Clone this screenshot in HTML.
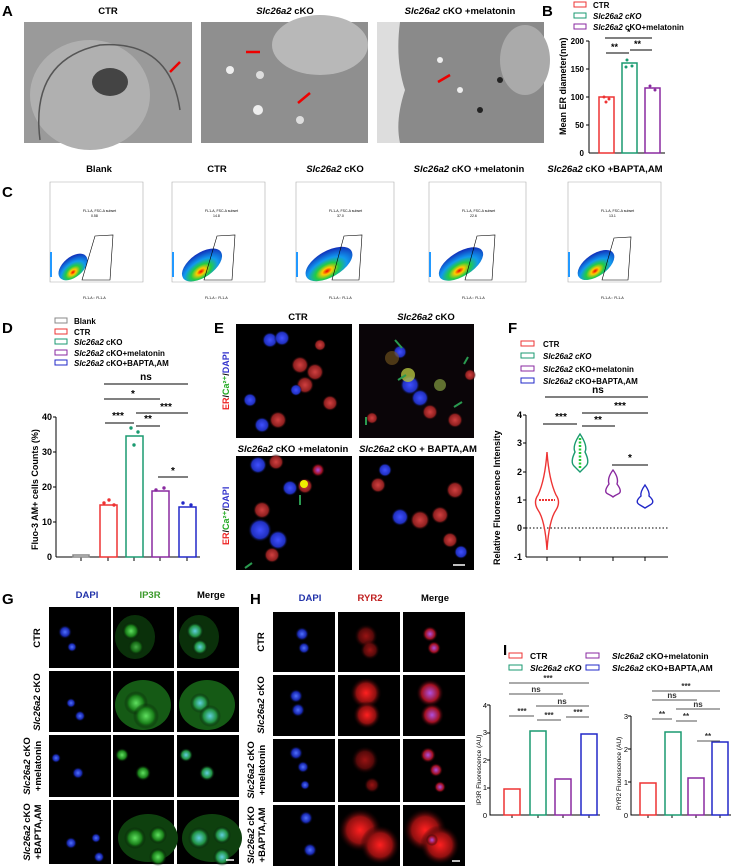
<!DOCTYPE html>
<html><head><meta charset="utf-8"><style>
body{margin:0;background:#fff}
svg{display:block;font-family:"Liberation Sans",Arial,sans-serif}
</style></head><body>
<svg width="735" height="868" viewBox="0 0 735 868" xmlns="http://www.w3.org/2000/svg">
<defs>
<radialGradient id="fl" cx="40%" cy="70%" r="70%"><stop offset="0" stop-color="#e00"/><stop offset=".15" stop-color="#fc0"/><stop offset=".35" stop-color="#2c4"/><stop offset=".6" stop-color="#19e"/><stop offset="1" stop-color="#13b"/></radialGradient>
<radialGradient id="b"><stop offset="0" stop-color="#5070ff"/><stop offset=".6" stop-color="#1828b0"/><stop offset="1" stop-color="#000" stop-opacity="0"/></radialGradient>
<radialGradient id="g"><stop offset="0" stop-color="#60e060"/><stop offset=".6" stop-color="#1a801a"/><stop offset="1" stop-color="#000" stop-opacity="0"/></radialGradient>
<radialGradient id="r"><stop offset="0" stop-color="#ff2020"/><stop offset=".6" stop-color="#901010"/><stop offset="1" stop-color="#000" stop-opacity="0"/></radialGradient>
<radialGradient id="c"><stop offset="0" stop-color="#60d0e0"/><stop offset=".6" stop-color="#209040"/><stop offset="1" stop-color="#000" stop-opacity="0"/></radialGradient>
<radialGradient id="pu"><stop offset="0" stop-color="#b050e0"/><stop offset=".6" stop-color="#a01020"/><stop offset="1" stop-color="#000" stop-opacity="0"/></radialGradient>
<radialGradient id="er"><stop offset="0" stop-color="#d04040"/><stop offset=".7" stop-color="#902020"/><stop offset="1" stop-color="#000" stop-opacity="0"/></radialGradient>
<radialGradient id="eb"><stop offset="0" stop-color="#4050ff"/><stop offset=".7" stop-color="#2030c0"/><stop offset="1" stop-color="#000" stop-opacity="0"/></radialGradient>
</defs>
<style>
.L{font-size:15px;font-weight:bold}
.T{font-size:9.5px;font-weight:bold}
.lg{font-size:8px;font-weight:bold}
</style>

<!-- A -->
<text class="L" x="2" y="16">A</text>
<text class="T" x="108" y="14" text-anchor="middle">CTR</text>
<text class="T" x="285" y="14" text-anchor="middle"><tspan font-style="italic">Slc26a2</tspan> cKO</text>
<text class="T" x="460" y="14" text-anchor="middle"><tspan font-style="italic">Slc26a2</tspan> cKO +melatonin</text>
<rect x="24" y="22" width="168" height="121" fill="#9a9a9a"/>
<ellipse cx="90" cy="95" rx="60" ry="55" fill="#b0b0b0"/>
<path d="M40 140 Q30 60 100 45 Q170 40 180 110" fill="none" stroke="#555" stroke-width="1.5"/>
<ellipse cx="110" cy="82" rx="18" ry="14" fill="#444"/>
<rect x="201" y="22" width="167" height="121" fill="#8f8f8f"/>
<ellipse cx="320" cy="45" rx="48" ry="30" fill="#b8b8b8"/>
<circle cx="230" cy="70" r="4" fill="#eee"/><circle cx="258" cy="110" r="5" fill="#eee"/><circle cx="300" cy="120" r="4" fill="#ddd"/><circle cx="260" cy="75" r="4" fill="#ddd"/>
<rect x="377" y="22" width="167" height="121" fill="#8a8a8a"/>
<path d="M377 22 L400 22 Q395 60 405 90 Q395 120 400 143 L377 143Z" fill="#ddd"/>
<ellipse cx="525" cy="60" rx="25" ry="35" fill="#aaa"/>
<circle cx="440" cy="60" r="3" fill="#eee"/><circle cx="460" cy="90" r="3" fill="#eee"/><circle cx="480" cy="110" r="3" fill="#222"/><circle cx="500" cy="80" r="3" fill="#222"/>
<g stroke="#e00" stroke-width="2.5">
<line x1="180" y1="62" x2="170" y2="72"/><line x1="260" y1="52" x2="246" y2="52"/><line x1="310" y1="93" x2="298" y2="103"/><line x1="450" y1="75" x2="438" y2="82"/></g>

<!-- B -->
<text class="L" x="542" y="16">B</text>
<g class="lg">
<rect x="574" y="2" width="12" height="5" fill="none" stroke="#e33"/><text x="593" y="8">CTR</text>
<rect x="574" y="13" width="12" height="5" fill="none" stroke="#1a9a70"/><text x="593" y="19" font-style="italic">Slc26a2 cKO</text>
<rect x="574" y="24" width="12" height="5" fill="none" stroke="#8a2aa0"/><text x="593" y="30"><tspan font-style="italic">Slc26a2</tspan> cKO+melatonin</text>
</g>
<text transform="translate(566,135) rotate(-90)" font-size="9" font-weight="bold">Mean ER diameter(nm)</text>
<g font-size="8" text-anchor="end" font-weight="bold"><text x="584" y="156">0</text><text x="584" y="128">50</text><text x="584" y="100">100</text><text x="584" y="72">150</text><text x="584" y="44">200</text></g>
<line x1="589" y1="41" x2="589" y2="153" stroke="#000"/><line x1="589" y1="153" x2="665" y2="153" stroke="#000"/>
<g stroke="#000"><line x1="586" y1="41" x2="589" y2="41"/><line x1="586" y1="69" x2="589" y2="69"/><line x1="586" y1="97" x2="589" y2="97"/><line x1="586" y1="125" x2="589" y2="125"/></g>
<rect x="599" y="97" width="15" height="56" fill="none" stroke="#e33" stroke-width="1.5"/>
<rect x="622" y="63" width="15" height="90" fill="none" stroke="#1a9a70" stroke-width="1.5"/>
<rect x="645" y="88" width="15" height="65" fill="none" stroke="#8a2aa0" stroke-width="1.5"/>
<g fill="#e33"><circle cx="604" cy="97" r="1.5"/><circle cx="609" cy="99" r="1.5"/><circle cx="606" cy="102" r="1.5"/></g>
<g fill="#1a9a70"><circle cx="627" cy="60" r="1.5"/><circle cx="632" cy="66" r="1.5"/><circle cx="626" cy="67" r="1.5"/></g>
<g fill="#8a2aa0"><circle cx="650" cy="86" r="1.5"/><circle cx="655" cy="90" r="1.5"/></g>
<g stroke="#000"><line x1="605" y1="38" x2="652" y2="38"/><line x1="606" y1="53" x2="629" y2="53"/><line x1="630" y1="50" x2="652" y2="50"/></g>
<g font-size="9" font-weight="bold"><text x="611" y="50">**</text><text x="634" y="47">**</text><text x="627" y="35">*</text></g>

<!-- C -->
<text class="L" x="2" y="197">C</text>
<g class="T" text-anchor="middle">
<text x="99" y="172">Blank</text><text x="217" y="172">CTR</text>
<text x="335" y="172"><tspan font-style="italic">Slc26a2</tspan> cKO</text>
<text x="469" y="172"><tspan font-style="italic">Slc26a2</tspan> cKO +melatonin</text>
<text x="605" y="172"><tspan font-style="italic">Slc26a2</tspan> cKO +BAPTA,AM</text>
</g>
<g font-size="3.5">
<g transform="translate(50,182)"><path d="M0 0 V100 H93 V0Z" fill="none" stroke="#aaa" stroke-width=".6"/><rect x="0" y="70" width="2" height="25" fill="#29f"/><ellipse cx="23" cy="85" rx="17" ry="10" transform="rotate(-40 23 85)" fill="url(#fl)"/><path d="M32 98 L45 54 L63 53 L60 98Z" fill="none" stroke="#000" stroke-width=".6"/><text x="33" y="30">FL1-A, FSC-A subset</text><text x="41" y="35">0.58</text><text x="33" y="117">FL1-A :: FL1-A</text></g>
<g transform="translate(172,182)"><path d="M0 0 V100 H93 V0Z" fill="none" stroke="#aaa" stroke-width=".6"/><rect x="0" y="70" width="2" height="25" fill="#29f"/><ellipse cx="30" cy="83" rx="23" ry="12" transform="rotate(-35 30 83)" fill="url(#fl)"/><path d="M32 98 L45 54 L63 53 L60 98Z" fill="none" stroke="#000" stroke-width=".6"/><text x="33" y="30">FL1-A, FSC-A subset</text><text x="41" y="35">14.8</text><text x="33" y="117">FL1-A :: FL1-A</text></g>
<g transform="translate(296,182)"><path d="M0 0 V100 H98 V0Z" fill="none" stroke="#aaa" stroke-width=".6"/><rect x="0" y="70" width="2" height="25" fill="#29f"/><ellipse cx="33" cy="82" rx="26" ry="13" transform="rotate(-30 33 82)" fill="url(#fl)"/><path d="M36 98 L48 54 L66 53 L63 98Z" fill="none" stroke="#000" stroke-width=".6"/><text x="33" y="30">FL1-A, FSC-A subset</text><text x="41" y="35">37.0</text><text x="33" y="117">FL1-A :: FL1-A</text></g>
<g transform="translate(429,182)"><path d="M0 0 V100 H97 V0Z" fill="none" stroke="#aaa" stroke-width=".6"/><rect x="0" y="70" width="2" height="25" fill="#29f"/><ellipse cx="32" cy="82" rx="25" ry="12" transform="rotate(-32 32 82)" fill="url(#fl)"/><path d="M36 98 L48 54 L66 53 L63 98Z" fill="none" stroke="#000" stroke-width=".6"/><text x="33" y="30">FL1-A, FSC-A subset</text><text x="41" y="35">22.6</text><text x="33" y="117">FL1-A :: FL1-A</text></g>
<g transform="translate(568,182)"><path d="M0 0 V100 H93 V0Z" fill="none" stroke="#aaa" stroke-width=".6"/><rect x="0" y="70" width="2" height="25" fill="#29f"/><ellipse cx="28" cy="83" rx="21" ry="11" transform="rotate(-35 28 83)" fill="url(#fl)"/><path d="M34 98 L46 56 L63 55 L60 98Z" fill="none" stroke="#000" stroke-width=".6"/><text x="33" y="30">FL1-A, FSC-A subset</text><text x="41" y="35">13.1</text><text x="33" y="117">FL1-A :: FL1-A</text></g>
</g>

<!-- D -->
<text class="L" x="2" y="333">D</text>
<g class="lg">
<rect x="55" y="318" width="12" height="5" fill="none" stroke="#888"/><text x="74" y="324">Blank</text>
<rect x="55" y="329" width="12" height="5" fill="none" stroke="#e33"/><text x="74" y="335">CTR</text>
<rect x="55" y="339" width="12" height="5" fill="none" stroke="#1a9a70"/><text x="74" y="345"><tspan font-style="italic">Slc26a2</tspan> cKO</text>
<rect x="55" y="350" width="12" height="5" fill="none" stroke="#8a2aa0"/><text x="74" y="356"><tspan font-style="italic">Slc26a2</tspan> cKO+melatonin</text>
<rect x="55" y="360" width="12" height="5" fill="none" stroke="#2228c8"/><text x="74" y="366"><tspan font-style="italic">Slc26a2</tspan> cKO+BAPTA,AM</text>
</g>
<text transform="translate(38,550) rotate(-90)" font-size="9" font-weight="bold">Fluo-3 AM+ cells Counts (%)</text>
<g font-size="9" text-anchor="end" font-weight="bold"><text x="52" y="560">0</text><text x="52" y="525">10</text><text x="52" y="490">20</text><text x="52" y="455">30</text><text x="52" y="420">40</text></g>
<line x1="56" y1="417" x2="56" y2="557" stroke="#000"/><line x1="56" y1="557" x2="200" y2="557" stroke="#000"/>
<g stroke="#000"><line x1="53" y1="417" x2="56" y2="417"/><line x1="53" y1="452" x2="56" y2="452"/><line x1="53" y1="487" x2="56" y2="487"/><line x1="53" y1="522" x2="56" y2="522"/><line x1="81" y1="557" x2="81" y2="561"/><line x1="108" y1="557" x2="108" y2="561"/><line x1="134" y1="557" x2="134" y2="561"/><line x1="160" y1="557" x2="160" y2="561"/><line x1="187" y1="557" x2="187" y2="561"/></g>
<rect x="73" y="555" width="16" height="2" fill="none" stroke="#888" stroke-width="1.5"/>
<rect x="100" y="505" width="17" height="52" fill="none" stroke="#e33" stroke-width="1.5"/>
<rect x="126" y="436" width="17" height="121" fill="none" stroke="#1a9a70" stroke-width="1.5"/>
<rect x="152" y="491" width="17" height="66" fill="none" stroke="#8a2aa0" stroke-width="1.5"/>
<rect x="179" y="507" width="17" height="50" fill="none" stroke="#2228c8" stroke-width="1.5"/>
<g fill="#e33"><circle cx="104" cy="503" r="1.7"/><circle cx="109" cy="500" r="1.7"/><circle cx="114" cy="505" r="1.7"/></g>
<g fill="#1a9a70"><circle cx="131" cy="428" r="1.7"/><circle cx="138" cy="432" r="1.7"/><circle cx="134" cy="445" r="1.7"/></g>
<g fill="#8a2aa0"><circle cx="156" cy="490" r="1.7"/><circle cx="164" cy="488" r="1.7"/></g>
<g fill="#2228c8"><circle cx="183" cy="503" r="1.7"/><circle cx="191" cy="505" r="1.7"/></g>
<g stroke="#000"><line x1="104" y1="384" x2="188" y2="384"/><line x1="104" y1="399" x2="160" y2="399"/><line x1="105" y1="423" x2="134" y2="423"/><line x1="136" y1="426" x2="160" y2="426"/><line x1="136" y1="413" x2="188" y2="413"/><line x1="158" y1="477" x2="188" y2="477"/></g>
<g font-size="10" font-weight="bold" text-anchor="middle"><text x="146" y="380">ns</text><text x="133" y="397">*</text><text x="118" y="419">***</text><text x="148" y="422">**</text><text x="166" y="410">***</text><text x="173" y="474">*</text></g>

<!-- E -->
<text class="L" x="214" y="333">E</text>
<text class="T" x="298" y="320" text-anchor="middle">CTR</text>
<text class="T" x="426" y="320" text-anchor="middle"><tspan font-style="italic">Slc26a2</tspan> cKO</text>
<text class="T" x="293" y="452" text-anchor="middle" font-size="8.5"><tspan font-style="italic">Slc26a2</tspan> cKO +melatonin</text>
<text class="T" x="418" y="452" text-anchor="middle" font-size="8.5"><tspan font-style="italic">Slc26a2</tspan> cKO + BAPTA,AM</text>
<rect x="236" y="324" width="116" height="114" fill="#000"/>
<rect x="359" y="324" width="115" height="114" fill="#0a0508"/>
<rect x="236" y="456" width="116" height="114" fill="#000"/>
<rect x="359" y="456" width="115" height="114" fill="#000"/>
<g>
<circle cx="270" cy="340" r="8" fill="url(#eb)"/><circle cx="282" cy="338" r="8" fill="url(#eb)"/><circle cx="300" cy="365" r="9" fill="url(#er)"/><circle cx="315" cy="372" r="9" fill="url(#er)"/><circle cx="305" cy="385" r="9" fill="url(#er)"/><circle cx="296" cy="390" r="6" fill="url(#eb)"/><circle cx="250" cy="400" r="7" fill="url(#eb)"/><circle cx="262" cy="425" r="8" fill="url(#eb)"/><circle cx="278" cy="420" r="9" fill="url(#er)"/><circle cx="330" cy="403" r="8" fill="url(#er)"/><circle cx="320" cy="345" r="6" fill="url(#er)"/>
<circle cx="400" cy="352" r="7" fill="url(#eb)"/><circle cx="392" cy="358" r="7" fill="#7a5a20" opacity=".6"/><circle cx="410" cy="385" r="10" fill="url(#eb)"/><circle cx="420" cy="398" r="9" fill="url(#eb)"/><circle cx="430" cy="412" r="8" fill="url(#er)"/><circle cx="408" cy="375" r="7" fill="#b0c040" opacity=".8"/><circle cx="455" cy="420" r="8" fill="url(#er)"/><circle cx="470" cy="375" r="6" fill="url(#er)"/><circle cx="440" cy="385" r="6" fill="#607030"/><circle cx="372" cy="418" r="6" fill="url(#er)"/>
<circle cx="258" cy="465" r="9" fill="url(#eb)"/><circle cx="276" cy="462" r="8" fill="url(#er)"/><circle cx="290" cy="488" r="8" fill="url(#eb)"/><circle cx="305" cy="486" r="8" fill="url(#er)"/><circle cx="304" cy="484" r="4" fill="#ee0"/><circle cx="318" cy="470" r="7" fill="url(#pu)"/><circle cx="262" cy="510" r="9" fill="url(#er)"/><circle cx="260" cy="530" r="12" fill="url(#eb)"/><circle cx="278" cy="540" r="10" fill="url(#eb)"/><circle cx="272" cy="555" r="8" fill="url(#er)"/>
<circle cx="378" cy="485" r="8" fill="url(#er)"/><circle cx="385" cy="470" r="7" fill="url(#eb)"/><circle cx="400" cy="517" r="9" fill="url(#eb)"/><circle cx="420" cy="520" r="10" fill="url(#er)"/><circle cx="440" cy="515" r="9" fill="url(#er)"/><circle cx="455" cy="490" r="9" fill="url(#er)"/><circle cx="450" cy="540" r="8" fill="url(#er)"/><circle cx="461" cy="552" r="7" fill="url(#eb)"/>
</g>
<g stroke="#2a9a50" stroke-width="2"><line x1="395" y1="340" x2="402" y2="348"/><line x1="398" y1="380" x2="406" y2="375"/><line x1="468" y1="357" x2="464" y2="364"/><line x1="366" y1="425" x2="366" y2="417"/><line x1="462" y1="402" x2="454" y2="407"/><line x1="300" y1="505" x2="300" y2="495"/><line x1="245" y1="568" x2="252" y2="563"/></g>
<line x1="453" y1="565" x2="465" y2="565" stroke="#fff" stroke-width="1.5"/>
<g font-size="9" font-weight="bold">
<text transform="translate(229,410) rotate(-90)"><tspan fill="#e22">ER</tspan>/<tspan fill="#2a2">Ca²⁺</tspan>/<tspan fill="#33c">DAPI</tspan></text>
<text transform="translate(229,545) rotate(-90)"><tspan fill="#e22">ER</tspan>/<tspan fill="#2a2">Ca²⁺</tspan>/<tspan fill="#33c">DAPI</tspan></text>
</g>

<!-- F -->
<text class="L" x="508" y="333">F</text>
<g class="lg">
<rect x="521" y="341" width="13" height="5" fill="none" stroke="#e33"/><text x="543" y="347">CTR</text>
<rect x="521" y="353" width="13" height="5" fill="none" stroke="#1a9a70"/><text x="543" y="359" font-style="italic">Slc26a2 cKO</text>
<rect x="521" y="366" width="13" height="5" fill="none" stroke="#8a2aa0"/><text x="543" y="372"><tspan font-style="italic">Slc26a2</tspan> cKO+melatonin</text>
<rect x="521" y="378" width="13" height="5" fill="none" stroke="#2228c8"/><text x="543" y="384"><tspan font-style="italic">Slc26a2</tspan> cKO+BAPTA,AM</text>
</g>
<text transform="translate(500,565) rotate(-90)" font-size="9" font-weight="bold">Relative Fluorescence Intensity</text>
<g font-size="9" text-anchor="end" font-weight="bold"><text x="522" y="560">-1</text><text x="522" y="531">0</text><text x="522" y="503">1</text><text x="522" y="475">2</text><text x="522" y="446">3</text><text x="522" y="418">4</text></g>
<line x1="526" y1="415" x2="526" y2="557" stroke="#000"/><line x1="526" y1="557" x2="668" y2="557" stroke="#000"/>
<g stroke="#000"><line x1="523" y1="415" x2="526" y2="415"/><line x1="523" y1="443" x2="526" y2="443"/><line x1="523" y1="472" x2="526" y2="472"/><line x1="523" y1="500" x2="526" y2="500"/><line x1="523" y1="528" x2="526" y2="528"/><line x1="547" y1="557" x2="547" y2="561"/><line x1="580" y1="557" x2="580" y2="561"/><line x1="613" y1="557" x2="613" y2="561"/><line x1="645" y1="557" x2="645" y2="561"/></g>
<line x1="526" y1="528" x2="668" y2="528" stroke="#000" stroke-dasharray="1.5,2"/>
<path d="M547 452 Q545 480 538 495 Q533 502 538 510 Q545 520 547 550 Q549 520 556 510 Q561 502 556 495 Q549 480 547 452Z" fill="none" stroke="#e33" stroke-width="1.4"/>
<line x1="539" y1="500" x2="555" y2="500" stroke="#e33" stroke-width="2" stroke-dasharray="2,1"/>
<path d="M580 434 Q572 446 575 452 Q570 462 574 466 Q578 470 580 472 Q582 470 586 466 Q590 462 585 452 Q588 446 580 434Z" fill="none" stroke="#1a9a70" stroke-width="1.4"/>
<line x1="580" y1="438" x2="580" y2="468" stroke="#2c3" stroke-width="2.5" stroke-dasharray="2,1.5"/>
<path d="M613 470 Q607 478 609 484 Q603 492 608 494 Q612 496 613 497 Q614 496 618 494 Q623 492 617 484 Q619 478 613 470Z" fill="none" stroke="#8a2aa0" stroke-width="1.4"/>
<path d="M645 485 Q640 492 641 496 Q634 502 640 505 L645 508 L650 505 Q656 502 649 496 Q650 492 645 485Z" fill="none" stroke="#2228c8" stroke-width="1.4"/>
<g stroke="#000"><line x1="545" y1="397" x2="648" y2="397"/><line x1="543" y1="424" x2="577" y2="424"/><line x1="582" y1="426" x2="615" y2="426"/><line x1="582" y1="413" x2="648" y2="413"/><line x1="612" y1="465" x2="648" y2="465"/></g>
<g font-size="10" font-weight="bold" text-anchor="middle"><text x="598" y="393">ns</text><text x="561" y="420">***</text><text x="598" y="423">**</text><text x="620" y="409">***</text><text x="630" y="461">*</text></g>

<!-- G / H -->
<text class="L" x="2" y="604">G</text>
<text class="L" x="250" y="604">H</text>
<g class="T" text-anchor="middle">
<text x="87" y="598" fill="#2233aa">DAPI</text><text x="150" y="598" fill="#3a9a2a">IP3R</text><text x="211" y="598">Merge</text>
<text x="310" y="601" fill="#2233aa">DAPI</text><text x="370" y="601" fill="#c02020">RYR2</text><text x="435" y="601">Merge</text>
</g>
<g fill="#000">
<rect x="49" y="607" width="62" height="61"/><rect x="113" y="607" width="61" height="61"/><rect x="177" y="607" width="62" height="61"/>
<rect x="49" y="671" width="62" height="61"/><rect x="113" y="671" width="61" height="61"/><rect x="177" y="671" width="62" height="61"/>
<rect x="49" y="735" width="62" height="62"/><rect x="113" y="735" width="61" height="62"/><rect x="177" y="735" width="62" height="62"/>
<rect x="49" y="800" width="62" height="64"/><rect x="113" y="800" width="61" height="64"/><rect x="177" y="800" width="62" height="64"/>
<rect x="273" y="612" width="62" height="60"/><rect x="338" y="612" width="62" height="60"/><rect x="403" y="612" width="62" height="60"/>
<rect x="273" y="675" width="62" height="61"/><rect x="338" y="675" width="62" height="61"/><rect x="403" y="675" width="62" height="61"/>
<rect x="273" y="739" width="62" height="63"/><rect x="338" y="739" width="62" height="63"/><rect x="403" y="739" width="62" height="63"/>
<rect x="273" y="805" width="62" height="61"/><rect x="338" y="805" width="62" height="61"/><rect x="403" y="805" width="62" height="61"/>
</g>
<g>
<!-- G CTR -->
<circle cx="65" cy="632" r="7" fill="url(#b)"/><circle cx="72" cy="647" r="5" fill="url(#b)"/>
<ellipse cx="135" cy="637" rx="20" ry="22" fill="#0a300a"/>
<circle cx="131" cy="631" r="9" fill="url(#g)"/><circle cx="136" cy="647" r="8" fill="url(#g)" opacity=".7"/>
<ellipse cx="199" cy="637" rx="20" ry="22" fill="#0a300a"/>
<circle cx="195" cy="631" r="9" fill="url(#c)"/><circle cx="200" cy="647" r="8" fill="url(#c)"/>
<!-- G cKO -->
<circle cx="71" cy="703" r="5" fill="url(#b)"/><circle cx="80" cy="716" r="5.5" fill="url(#b)"/>
<ellipse cx="143" cy="705" rx="28" ry="25" fill="#155a15"/>
<circle cx="136" cy="703" r="12" fill="url(#g)"/><circle cx="146" cy="716" r="13" fill="url(#g)"/>
<ellipse cx="207" cy="705" rx="28" ry="25" fill="#155a15"/>
<circle cx="200" cy="703" r="10" fill="url(#c)"/><circle cx="210" cy="716" r="11" fill="url(#c)"/>
<!-- G mel -->
<circle cx="56" cy="758" r="5" fill="url(#b)"/><circle cx="78" cy="773" r="6" fill="url(#b)"/>
<circle cx="122" cy="755" r="7" fill="url(#g)"/><circle cx="143" cy="773" r="8" fill="url(#g)"/>
<circle cx="186" cy="755" r="7" fill="url(#c)"/><circle cx="207" cy="773" r="8" fill="url(#c)"/>
<!-- G BAPTA -->
<circle cx="71" cy="843" r="6" fill="url(#b)"/><circle cx="96" cy="838" r="5" fill="url(#b)"/><circle cx="99" cy="857" r="5.5" fill="url(#b)"/>
<ellipse cx="148" cy="838" rx="30" ry="24" fill="#0e400e"/>
<circle cx="135" cy="838" r="11" fill="url(#g)"/><circle cx="158" cy="835" r="9" fill="url(#g)"/><circle cx="158" cy="857" r="9" fill="url(#g)"/>
<ellipse cx="212" cy="838" rx="30" ry="24" fill="#0e400e"/>
<circle cx="199" cy="838" r="11" fill="url(#c)"/><circle cx="222" cy="835" r="9" fill="url(#c)"/><circle cx="222" cy="857" r="9" fill="url(#c)"/>
<!-- H -->
<circle cx="302" cy="634" r="7" fill="url(#b)"/><circle cx="304" cy="648" r="6" fill="url(#b)"/>
<circle cx="366" cy="636" r="12" fill="url(#r)" opacity=".6"/><circle cx="370" cy="650" r="10" fill="url(#r)" opacity=".6"/>
<circle cx="430" cy="634" r="8" fill="url(#pu)"/><circle cx="434" cy="648" r="7" fill="url(#pu)"/>
<circle cx="296" cy="696" r="7" fill="url(#b)"/><circle cx="298" cy="710" r="7" fill="url(#b)"/>
<circle cx="366" cy="693" r="16" fill="url(#r)"/><circle cx="367" cy="715" r="14" fill="url(#r)"/>
<circle cx="430" cy="693" r="14" fill="url(#pu)"/><circle cx="432" cy="715" r="12" fill="url(#pu)"/>
<circle cx="296" cy="753" r="7" fill="url(#b)"/><circle cx="303" cy="767" r="6" fill="url(#b)"/><circle cx="305" cy="785" r="5" fill="url(#b)"/>
<circle cx="365" cy="760" r="14" fill="url(#r)" opacity=".6"/><circle cx="372" cy="785" r="8" fill="url(#r)" opacity=".6"/>
<circle cx="428" cy="755" r="8" fill="url(#pu)"/><circle cx="436" cy="770" r="7" fill="url(#pu)"/><circle cx="440" cy="787" r="6" fill="url(#pu)"/>
<circle cx="306" cy="818" r="7" fill="url(#b)"/><circle cx="310" cy="850" r="7" fill="url(#b)"/>
<circle cx="360" cy="830" r="22" fill="url(#r)"/><circle cx="380" cy="845" r="20" fill="url(#r)"/>
<circle cx="425" cy="830" r="22" fill="url(#r)"/><circle cx="440" cy="845" r="20" fill="url(#r)"/><circle cx="432" cy="840" r="6" fill="url(#pu)"/>
</g>
<line x1="226" y1="860" x2="234" y2="860" stroke="#fff" stroke-width="1.5"/><line x1="452" y1="861" x2="460" y2="861" stroke="#fff" stroke-width="1.5"/>
<g font-size="9.5" font-weight="bold" text-anchor="middle">
<text transform="translate(40,638) rotate(-90)">CTR</text>
<text transform="translate(40,702) rotate(-90)"><tspan font-style="italic">Slc26a2</tspan> cKO</text>
<text transform="translate(30,766) rotate(-90)"><tspan font-style="italic">Slc26a2</tspan> cKO</text><text transform="translate(41,766) rotate(-90)">+melatonin</text>
<text transform="translate(30,832) rotate(-90)"><tspan font-style="italic">Slc26a2</tspan> cKO</text><text transform="translate(41,832) rotate(-90)">+BAPTA,AM</text>
<text transform="translate(264,642) rotate(-90)">CTR</text>
<text transform="translate(264,705) rotate(-90)"><tspan font-style="italic">Slc26a2</tspan> cKO</text>
<text transform="translate(254,770) rotate(-90)"><tspan font-style="italic">Slc26a2</tspan> cKO</text><text transform="translate(265,770) rotate(-90)">+melatonin</text>
<text transform="translate(254,835) rotate(-90)"><tspan font-style="italic">Slc26a2</tspan> cKO</text><text transform="translate(265,835) rotate(-90)">+BAPTA,AM</text>
</g>

<!-- I -->
<text class="L" x="503" y="655">I</text>
<g font-size="8.5" font-weight="bold">
<rect x="509" y="653" width="13" height="5" fill="none" stroke="#e33"/><text x="530" y="659">CTR</text>
<rect x="509" y="665" width="13" height="5" fill="none" stroke="#1a9a70"/><text x="530" y="671" font-style="italic">Slc26a2 cKO</text>
<rect x="586" y="653" width="13" height="5" fill="none" stroke="#8a2aa0"/><text x="612" y="659"><tspan font-style="italic">Slc26a2</tspan> cKO+melatonin</text>
<rect x="586" y="665" width="13" height="5" fill="none" stroke="#2228c8"/><text x="612" y="671"><tspan font-style="italic">Slc26a2</tspan> cKO+BAPTA,AM</text>
</g>
<g font-size="6.5">
<text transform="translate(481,805) rotate(-90)">IP3R Fluorescence (AU)</text>
<text transform="translate(621,810) rotate(-90)">RYR2 Fluorescence (AU)</text>
<g text-anchor="end" font-size="7.5"><text x="487" y="818">0</text><text x="487" y="790">1</text><text x="487" y="763">2</text><text x="487" y="735">3</text><text x="487" y="708">4</text>
<text x="628" y="818">0</text><text x="628" y="785">1</text><text x="628" y="752">2</text><text x="628" y="719">3</text></g>
</g>
<g stroke="#000" fill="none"><path d="M490 705 V815 H600"/><path d="M631 716 V815 H731"/>
<path d="M487 705h3M487 733h3M487 760h3M487 788h3M628 716h3M628 749h3M628 782h3"/>
<path d="M512 815v3M538 815v3M563 815v3M589 815v3M648 815v3M672 815v3M696 815v3M720 815v3"/></g>
<g fill="none" stroke-width="1.5">
<rect x="504" y="789" width="16" height="26" stroke="#e33"/><rect x="530" y="731" width="16" height="84" stroke="#1a9a70"/><rect x="555" y="779" width="16" height="36" stroke="#8a2aa0"/><rect x="581" y="734" width="16" height="81" stroke="#2228c8"/>
<rect x="640" y="783" width="16" height="32" stroke="#e33"/><rect x="665" y="732" width="16" height="83" stroke="#1a9a70"/><rect x="688" y="778" width="16" height="37" stroke="#8a2aa0"/><rect x="712" y="742" width="16" height="73" stroke="#2228c8"/>
</g>
<g stroke="#555">
<line x1="509" y1="683" x2="589" y2="683"/><line x1="509" y1="694" x2="563" y2="694"/><line x1="536" y1="706" x2="589" y2="706"/><line x1="509" y1="716" x2="534" y2="716"/><line x1="537" y1="720" x2="561" y2="720"/><line x1="566" y1="717" x2="589" y2="717"/>
<line x1="652" y1="691" x2="720" y2="691"/><line x1="652" y1="700" x2="697" y2="700"/><line x1="676" y1="709" x2="720" y2="709"/><line x1="652" y1="719" x2="672" y2="719"/><line x1="676" y1="721" x2="697" y2="721"/><line x1="697" y1="741" x2="720" y2="741"/>
</g>
<g font-size="8" font-weight="bold" text-anchor="middle" fill="#333">
<text x="548" y="681">***</text><text x="536" y="692">ns</text><text x="562" y="704">ns</text><text x="522" y="714">***</text><text x="549" y="718">***</text><text x="578" y="715">***</text>
<text x="686" y="689">***</text><text x="672" y="698">ns</text><text x="698" y="707">ns</text><text x="662" y="717">**</text><text x="686" y="719">**</text><text x="708" y="739">**</text>
</g>
</svg>
</body></html>
